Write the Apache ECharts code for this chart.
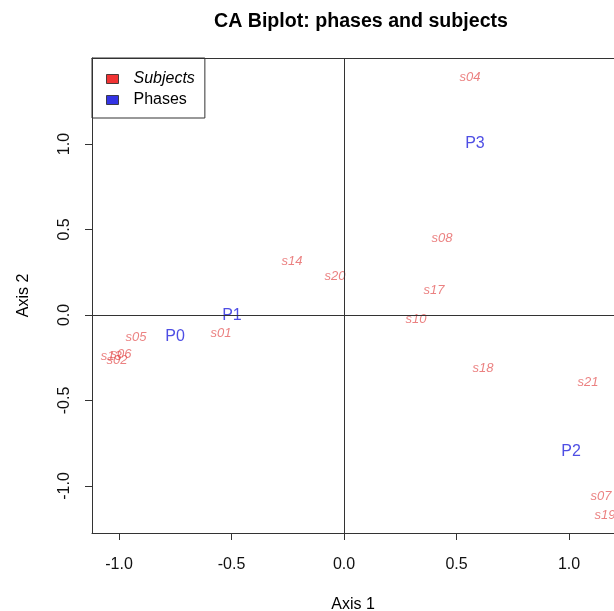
<!DOCTYPE html>
<html>
<head>
<meta charset="utf-8">
<script src="https://cdn.jsdelivr.net/npm/echarts@6/dist/echarts.min.js"></script>
<style>html,body{margin:0;padding:0;background:#fff}#c{width:614px;height:611px}</style>
</head>
<body>
<div id="c"></div>
<script>
// ---- data ----
var subjectNames = ['s04','s08','s14','s20','s17','s10','s01','s05','s06','s02','s13','s18','s21','s07','s19'];
var subjectX     = [0.56, 0.436, -0.231, -0.04, 0.40, 0.32, -0.547, -0.924, -0.991, -1.009, -1.035, 0.618, 1.084, 1.142, 1.16];
var subjectY     = [1.39, 0.45, 0.316, 0.228, 0.146, -0.023, -0.105, -0.129, -0.228, -0.263, -0.245, -0.31, -0.392, -1.06, -1.17];
var phaseNames = ['P0','P1','P2','P3'];
var phaseX     = [-0.751, -0.498, 1.009, 0.582];
var phaseY     = [-0.129, -0.006, -0.80, 1.0];
var tickValues = [-1.0, -0.5, 0.0, 0.5, 1.0];

var FONT = '"Liberation Sans", Arial, sans-serif';
function pts(xs, ys, names){ return xs.map(function(x,i){ return {name:names[i], value:[x, ys[i]]}; }); }

var chart = echarts.init(document.getElementById('c'), null, {renderer:'canvas'});
chart.setOption({
  animation:false,
  backgroundColor:'#fff',
  title:{ text:'CA Biplot: phases and subjects', left:209, top:7,
    textStyle:{fontFamily:FONT, fontWeight:'bold', fontSize:19.6, color:'#000'} },
  legend:{
    orient:'vertical', left:92, top:58,
    padding:[13,10,10,14], itemGap:5, itemWidth:12, itemHeight:9,
    borderColor:'#333', borderWidth:1, icon:'rect',
    itemStyle:{borderColor:'#222', borderWidth:1},
    textStyle:{fontFamily:FONT, fontSize:16, lineHeight:16, color:'#000', padding:[0,0,0,10]},
    data:[{name:'Subjects', textStyle:{fontStyle:'italic'}}, {name:'Phases'}]
  },
  grid:{ left:92, top:58, right:0, bottom:78, containLabel:false, outerBoundsMode:'none' },
  xAxis:[{
    type:'value', min:-1.12, max:1.2, position:'bottom',
    name:'Axis 1', nameLocation:'middle', nameGap:64,
    nameTextStyle:{fontFamily:FONT, fontSize:16, color:'#000'},
    axisLine:{show:true, onZero:false, lineStyle:{color:'#333', width:1}},
    axisTick:{show:true, inside:false, length:7, customValues:tickValues, lineStyle:{color:'#333'}},
    axisLabel:{show:true, margin:24, customValues:tickValues, fontFamily:FONT, fontSize:16, color:'#111',
      formatter:function(v){ return v.toFixed(1); }},
    splitLine:{show:false}
  },{
    type:'value', min:-1.12, max:1.2, position:'top',
    axisLine:{show:true, onZero:false, lineStyle:{color:'#333', width:1}},
    axisTick:{show:false}, axisLabel:{show:false}, splitLine:{show:false}
  }],
  yAxis:{
    type:'value', min:-1.275, max:1.503,
    name:'Axis 2', nameLocation:'middle', nameGap:60, nameRotate:90,
    nameTextStyle:{fontFamily:FONT, fontSize:16, color:'#000'},
    axisLine:{show:true, onZero:false, lineStyle:{color:'#333', width:1}},
    axisTick:{show:true, inside:false, length:7, customValues:tickValues, lineStyle:{color:'#333'}},
    axisLabel:{show:true, rotate:90, margin:19, customValues:tickValues, fontFamily:FONT, fontSize:16, color:'#111',
      formatter:function(v){ return v.toFixed(1); }},
    splitLine:{show:false}
  },
  series:[{
    name:'Subjects', type:'scatter', symbolSize:0,
    itemStyle:{color:'#ee0000'},
    data:pts(subjectX, subjectY, subjectNames),
    label:{show:true, position:'inside', formatter:'{b}', fontFamily:FONT, fontStyle:'italic',
      fontSize:13, color:'rgba(225,70,70,0.85)'},
    markLine:{ silent:true, symbol:'none', label:{show:false},
      lineStyle:{color:'#333', width:1, type:'solid'},
      data:[{xAxis:0},{yAxis:0}] },
    z:3
  },{
    name:'Phases', type:'scatter', symbolSize:0,
    itemStyle:{color:'#0000dd'},
    data:pts(phaseX, phaseY, phaseNames),
    label:{show:true, position:'inside', formatter:'{b}', fontFamily:FONT,
      fontSize:16, color:'#2222dd'},
    z:4
  }]
});
</script>
</body>
</html>
